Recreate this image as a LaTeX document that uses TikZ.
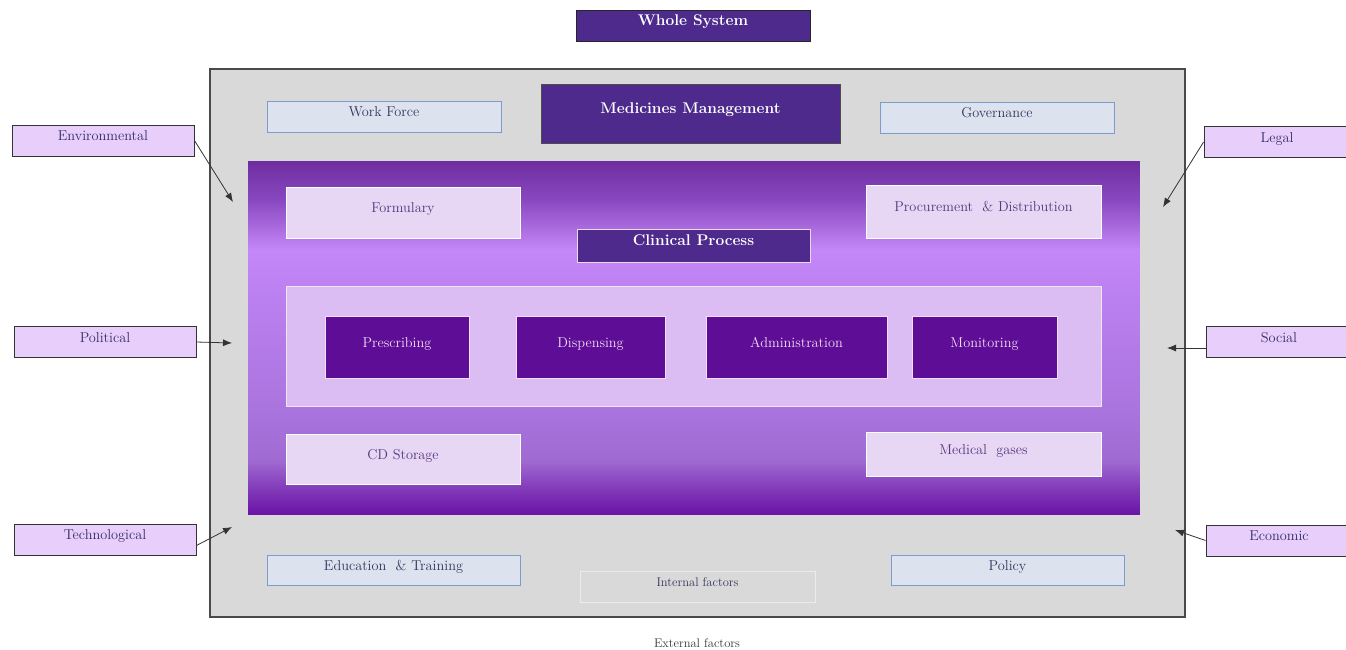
\documentclass[tikz,border=0pt]{standalone}
\usepackage{tikz}
\usetikzlibrary{arrows,arrows.meta}
\definecolor{violetfonce}{HTML}{4D2A8C}
\definecolor{gris}{HTML}{D9D9D9}
\definecolor{grisbord}{HTML}{4A4A4A}
\definecolor{bleupale}{HTML}{DCE2EE}
\definecolor{bleubord}{HTML}{7E9CCB}
\definecolor{bleutexte}{HTML}{34355E}
\definecolor{lavande}{HTML}{E8D6F5}
\definecolor{lavtexte}{HTML}{55377A}
\definecolor{panneau}{HTML}{DBBDF4}
\definecolor{etape}{HTML}{5E0D96}
\definecolor{etapetexte}{HTML}{F3DDF3}
\definecolor{facteur}{HTML}{E7CEFB}
\definecolor{facteurtexte}{HTML}{332C66}
% couleurs du degrade
\definecolor{dgA}{HTML}{6A12A6}
\definecolor{dgB}{HTML}{8038B8}
\definecolor{dgC}{HTML}{A06AD2}
\definecolor{dgD}{HTML}{AA74DE}
\definecolor{dgE}{HTML}{BE82F2}
\definecolor{dgF}{HTML}{C487F8}
\definecolor{dgG}{HTML}{8A48C0}
\definecolor{dgH}{HTML}{6C2C9E}
\pgfdeclareverticalshading{degradeviolet}{100bp}{%
    color(0bp)=(dgA); color(25bp)=(dgA); color(28.5bp)=(dgB);
    color(32.7bp)=(dgC); color(39.8bp)=(dgD); color(58bp)=(dgE);
    color(62.3bp)=(dgF); color(69.4bp)=(dgG); color(75bp)=(dgH);
    color(100bp)=(dgH)}

\begin{document}
\begin{tikzpicture}[x=1pt,y=-1pt,
    every node/.style={inner sep=0pt,text height=8pt,text depth=8pt,font=\fontsize{14.3}{16}\selectfont},
    titre/.style={draw=black!85,fill=violetfonce,text=white,font=\fontsize{15.5}{18}\selectfont\bfseries},
    interne/.style={draw=bleubord,fill=bleupale,text=bleutexte,line width=0.9pt},
    lav/.style={draw=white,fill=lavande,text=lavtexte,line width=0.8pt},
    etap/.style={draw=etapetexte,fill=etape,text=etapetexte,line width=0.8pt},
    fact/.style={draw=black!80,fill=facteur,text=facteurtexte,line width=0.9pt},
    fleche/.style={-{Latex[length=9pt,width=7pt]},draw=black!80,line width=0.8pt}]
\useasboundingbox (0,0) rectangle (1346,649);
\clip (0,0) rectangle (1346,649);%pour couper les cadres de droite

\node[titre,minimum width=234,minimum height=31] (ws) at (693,25.5) {Whole System};

% cadre gris des facteurs internes
\draw[fill=gris,draw=grisbord,line width=1.1pt] (210,69) rectangle (1185,617);
\node[interne,minimum width=234,minimum height=31] (wf) at (384,116.5) {Work Force};
\node[titre,draw=black!70,minimum width=299,minimum height=59] (mm) at (690.5,113.5) {Medicines Management};
\node[interne,minimum width=234,minimum height=31] (gov) at (997,117.5) {Governance};

% zone du processus clinique
\shade[shading=degradeviolet,draw=white!70!gray,line width=0.6pt] (247,160) rectangle (1140,515);
\node[lav,minimum width=234,minimum height=51] (form) at (403,212.5) {Formulary};
\node[lav,minimum width=235,minimum height=53] (proc) at (983.5,211.5) {Procurement \ \& Distribution};
\node[titre,draw=white!85!violet,line width=0.8pt,minimum width=233,minimum height=33] (cp) at (693.5,245.5) {Clinical Process};

\node[draw=white!90!violet,fill=panneau,line width=0.9pt,minimum width=815,minimum height=120] (pan) at (693.5,346) {};
\node[etap,minimum width=144,minimum height=62] (pres) at (397,347) {Prescribing};
\node[etap,minimum width=149,minimum height=62] (disp) at (590.5,347) {Dispensing};
\node[etap,minimum width=181,minimum height=62] (admin) at (796.5,347) {Administration};
\node[etap,minimum width=145,minimum height=62] (mon) at (984.5,347) {Monitoring};

\node[lav,minimum width=234,minimum height=50] (cds) at (403,459) {CD Storage};
\node[lav,minimum width=235,minimum height=44] (gaz) at (983.5,454) {Medical \ gases};

\node[interne,minimum width=253,minimum height=30] (edu) at (393.5,570) {Education \ \& Training};
\node[draw=white!85!gray,line width=0.9pt,text=bleutexte,font=\fontsize{12.5}{14}\selectfont,minimum width=235,minimum height=31] (intf) at (697.5,586.5) {Internal factors};
\node[interne,minimum width=233,minimum height=30] (pol) at (1007.5,570) {Policy};

\node[text=black!80,font=\fontsize{12.5}{14}\selectfont] (extf) at (697,647) {External factors};

% facteurs externes
\node[fact,minimum width=182,minimum height=31] (env) at (103,140.5) {Environmental};
\node[fact,minimum width=182,minimum height=31] (polit) at (105,342) {Political};
\node[fact,minimum width=182,minimum height=31] (tech) at (105,539.5) {Technological};
\node[fact,minimum width=146,minimum height=31] (leg) at (1277,142) {Legal};
\node[fact,minimum width=146,minimum height=31] (soc) at (1279,342) {Social};
\node[fact,minimum width=146,minimum height=31] (eco) at (1279,540.5) {Economic};

\coordinate (envb) at (233,202);
\coordinate (politb) at (232,343);
\coordinate (techb) at (232,527);
\coordinate (legb) at (1163,207);
\coordinate (socb) at (1167,348);
\coordinate (ecob) at (1175,530);

\draw[fleche] (env.east) -- (envb);
\draw[fleche] (polit.east) -- (politb);
\draw[fleche] (tech.east) ++(0,6) -- (techb);
\draw[fleche] (leg.west) -- (legb);
\draw[fleche] (soc.west) ++(0,6) -- (socb);
\draw[fleche] (eco.west) -- (ecob);
\end{tikzpicture}
\end{document}
